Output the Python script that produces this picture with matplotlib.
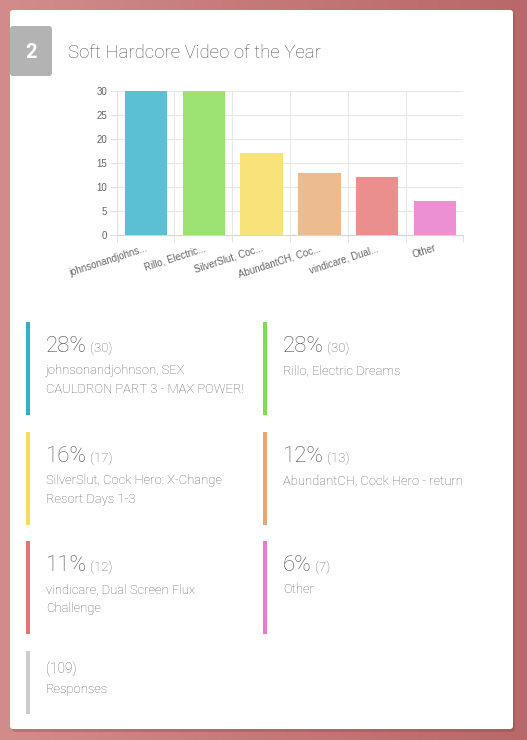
import matplotlib.pyplot as plt
import numpy as np
from matplotlib.patches import FancyBboxPatch, Rectangle
from matplotlib.colors import LinearSegmentedColormap

plt.rcParams['font.family'] = ['Roboto', 'DejaVu Sans']

W, H = 527, 740

title = "Soft Hardcore Video of the Year"
number = "2"
labels = ["johnsonandjohns...", "Rillo, Electric...", "SilverSlut, Coc...",
          "AbundantCH, Coc...", "vindicare, Dual...", "Other"]
votes = [30, 30, 17, 13, 12, 7]
percents = ["28%", "28%", "16%", "12%", "11%", "6%"]
descriptions = ["johnsonandjohnson, SEX\nCAULDRON PART 3 - MAX POWER!",
                "Rillo, Electric Dreams",
                "SilverSlut, Cock Hero: X-Change\nResort Days 1-3",
                "AbundantCH, Cock Hero - return",
                "vindicare, Dual Screen Flux\nChallenge",
                "Other"]
total = 109
bar_colors = ["#5bc0d3", "#9de374", "#f9e27a", "#ecbb8f", "#eb8f8e", "#ec8fd3"]
side_colors = ["#31b0c9", "#7fdc4c", "#f7dc5c", "#e6a86e", "#e57572", "#e57ad0"]

fig = plt.figure(figsize=(W / 100, H / 100), dpi=100)

# page background + card, drawn in pixel coordinates
bg = fig.add_axes([0, 0, 1, 1])
bg.set_xlim(0, W)
bg.set_ylim(H, 0)
bg.axis('off')
grad = np.linspace(0, 1, 256).reshape(1, -1)
cmap = LinearSegmentedColormap.from_list('bg', ["#d38c8c", "#c47979", "#b86868"])
bg.imshow(grad, cmap=cmap, extent=[0, W, H, 0], aspect='auto', zorder=0)
bg.add_patch(FancyBboxPatch((12, 13), 503, 719, boxstyle="round,pad=0,rounding_size=3",
                            facecolor="#8a4a4a", edgecolor='none', alpha=0.35, zorder=1))
bg.add_patch(FancyBboxPatch((10, 10), 503, 719, boxstyle="round,pad=0,rounding_size=3",
                            facecolor="white", edgecolor='none', zorder=2))
bg.add_patch(FancyBboxPatch((10, 26), 42, 50, boxstyle="round,pad=0,rounding_size=3",
                            facecolor="#b3b3b3", edgecolor='none', zorder=3))
bg.text(31, 52, number, color="white", fontsize=14.5, fontweight='bold',
        ha='center', va='center', zorder=4)
bg.text(68, 53, title, color="#555555", fontsize=13.4, fontweight='light',
        ha='left', va='center', zorder=4)

# result cards
col_x = [26, 263]
row_y = [322, 432, 541]
for i in range(len(votes)):
    x0 = col_x[i % 2]
    y0 = row_y[i // 2]
    bg.add_patch(Rectangle((x0, y0), 4, 93, facecolor=side_colors[i],
                           edgecolor='none', zorder=3))
    t = bg.text(x0 + 20, y0 + 30, percents[i], color="#555555", fontsize=16,
                fontweight='light', ha='left', va='baseline', zorder=4)
    bg.annotate("(%d)" % votes[i], xy=(1, 0), xycoords=t, xytext=(2.2, 1.5),
                textcoords='offset points', color="#666666", fontsize=9.5,
                fontweight='light', ha='left', va='bottom', zorder=4)
    bg.text(x0 + 20, y0 + 42, descriptions[i], color="#666666", fontsize=9.4,
            fontweight='light', ha='left', va='top', linespacing=1.6, zorder=4)

bg.add_patch(Rectangle((26, 651), 4, 63, facecolor="#cccccc", edgecolor='none', zorder=3))
bg.text(46, 669, "(%d)" % total, color="#666666", fontsize=9.8, fontweight='light',
        ha='left', va='center', zorder=4)
bg.text(46, 689, "Responses", color="#666666", fontsize=9.4, fontweight='light',
        ha='left', va='center', zorder=4)

# bar chart
left, right, top, bottom = 116.7, 463.3, 91, 235
ax = fig.add_axes([left / W, 1 - bottom / H, (right - left) / W, (bottom - top) / H])
x = np.arange(len(votes))
ax.bar(x, votes, width=0.72, color=bar_colors, edgecolor=bar_colors,
       linewidth=0.8, zorder=3)
ax.set_xlim(-0.5, len(votes) - 0.5)
ax.set_ylim(0, 30)
ax.set_yticks(range(0, 31, 5))
ax.set_xticks(x)
ax.set_xticklabels(labels, rotation=18, ha='right', rotation_mode='anchor',
                   fontsize=7, color="#666666", family='Liberation Sans')
ax.set_xticks(np.arange(-0.5, len(votes)), minor=True)
ax.tick_params(axis='x', which='major', length=0, pad=6)
ax.tick_params(axis='x', which='minor', length=5, color="#e3e3e3", width=0.8)
ax.tick_params(axis='y', length=5, color="#e3e3e3", width=0.8, labelsize=7,
               labelcolor="#666666", pad=2)
for lab in ax.get_yticklabels():
    lab.set_family('Liberation Sans')
ax.grid(True, axis='y', color="#e8e8e8", linewidth=0.8, zorder=0)
ax.grid(True, axis='x', which='minor', color="#e8e8e8", linewidth=0.8, zorder=0)
ax.grid(False, axis='x', which='major')
for s in ['top', 'right']:
    ax.spines[s].set_visible(False)
ax.spines['left'].set_color("#e3e3e3")
ax.spines['bottom'].set_color("#d6d6d6")
ax.set_facecolor('none')

fig.savefig("out.png", dpi=100)
